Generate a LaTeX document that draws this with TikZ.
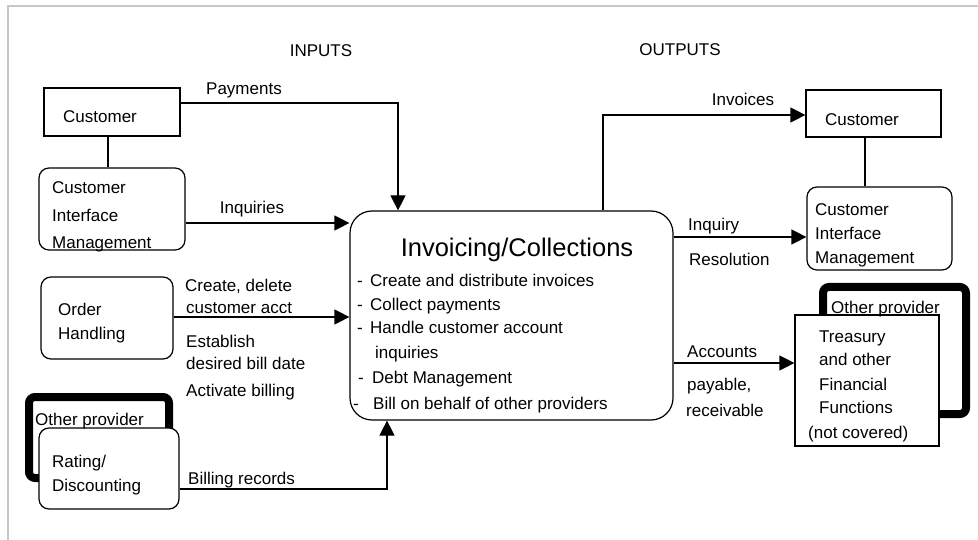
\documentclass[tikz,border=0pt]{standalone}
\usepackage{fontspec}
\setmainfont{Liberation Sans}
\usetikzlibrary{arrows.meta}
\begin{document}
\begin{tikzpicture}[x=1pt,y=-1pt,
  font=\fontsize{17}{20}\selectfont,
  lbl/.style={anchor=base west,inner sep=0pt},
  clbl/.style={anchor=base,inner sep=0pt},
  sqbox/.style={draw,line width=1.2pt,fill=white,inner sep=0pt},
  rbox/.style={draw,line width=1.2pt,fill=white,rounded corners=10pt,inner sep=0pt},
  provbox/.style={draw,line width=8pt,rounded corners=6pt,inner sep=0pt},
  mainbox/.style={draw,line width=1.2pt,fill=white,rounded corners=22pt,inner sep=0pt},
  link/.style={line width=1.2pt},
  arr/.style={line width=1.2pt,-{Triangle[length=15pt,width=15pt]}}]
\useasboundingbox (0,0) rectangle (978,540);
% page frame
\draw[black!22,line width=2pt] (8,540) -- (8,6) -- (978,6);

% headings
\node[clbl] (hin) at (321,57) {INPUTS};
\node[clbl] (hout) at (680,56) {OUTPUTS};

% input side boxes
\node[sqbox,minimum width=136pt,minimum height=48pt] (custL) at (112,112) {};
\node[rbox,minimum width=146pt,minimum height=82pt] (cimL) at (112,209) {};
\node[rbox,minimum width=132pt,minimum height=82pt] (ord) at (107,318) {};
\node[provbox,minimum width=140pt,minimum height=81pt] (othL) at (99,437.5) {};
\node[rbox,minimum width=140pt,minimum height=81pt] (rate) at (109,468.5) {};

% central process
\node[mainbox,minimum width=323pt,minimum height=209pt] (main) at (511.5,315.5) {};

% output side boxes
\node[sqbox,minimum width=135pt,minimum height=47pt] (custR) at (873.5,113.5) {};
\node[rbox,minimum width=145pt,minimum height=83pt] (cimR) at (879.5,228.5) {};
\node[provbox,minimum width=143pt,minimum height=127pt] (othR) at (894.5,350.5) {};
\node[sqbox,minimum width=144pt,minimum height=131pt] (treas) at (867,380.5) {};

% box texts
\node[lbl] (tcustL) at (63,123) {Customer};
\node[lbl] (tcimL1) at (52,194) {Customer};
\node[lbl] (tcimL2) at (52,222) {Interface};
\node[lbl] (tcimL3) at (52,249) {Management};
\node[lbl] (tord1) at (58,316) {Order};
\node[lbl] (tord2) at (58,340) {Handling};
\node[lbl] (tothL) at (35,425) {Other provider};
\node[lbl] (trate1) at (52,467) {Rating/};
\node[lbl] (trate2) at (52,491) {Discounting};

\node[clbl,font=\fontsize{25.5}{30}\selectfont] (ttitle) at (517,257) {Invoicing/Collections};
\node[lbl] (d1) at (357,287) {-};
\node[lbl] (m1) at (370,287) {Create and distribute invoices};
\node[lbl] (d2) at (357,311) {-};
\node[lbl] (m2) at (370,311) {Collect payments};
\node[lbl] (d3) at (357,334) {-};
\node[lbl] (m3) at (370,334) {Handle customer account};
\node[lbl] (m3b) at (375,358) {inquiries};
\node[lbl] (d4) at (358,383) {-};
\node[lbl] (m4) at (372,383) {Debt Management};
\node[lbl] (d5) at (353,409) {-};
\node[lbl] (m5) at (373,409) {Bill on behalf of other providers};

\node[lbl] (tcustR) at (825,126) {Customer};
\node[lbl] (tcimR1) at (815,216) {Customer};
\node[lbl] (tcimR2) at (815,240) {Interface};
\node[lbl] (tcimR3) at (815,264) {Management};
\node[lbl] (tothR) at (831,314) {Other provider};
\node[lbl] (ttr1) at (819,342) {Treasury};
\node[lbl] (ttr2) at (819,366) {and other};
\node[lbl] (ttr3) at (819,390) {Financial};
\node[lbl] (ttr4) at (819,413) {Functions};
\node[lbl] (ttr5) at (808,438) {(not covered)};

% connectors
\draw[link] (custL.south -| 108,0) -- (cimL.north -| 108,0);
\draw[link] (custR.south -| 865,0) -- (cimR.north -| 865,0);
\draw[arr] (custL.east |- 0,103) -| (main.north -| 398,0);
\draw[arr] (cimL.east |- 0,223) -- (main.west |- 0,223);
\draw[arr] (ord.east |- 0,317) -- (main.west |- 0,317);
\draw[arr] (rate.east |- 0,489) -| (main.south -| 387,0);
\draw[arr] (main.north -| 603,0) |- (custR.west |- 0,115);
\draw[arr] (main.east |- 0,237) -- (cimR.west |- 0,237);
\draw[arr] (main.east |- 0,363) -- (treas.west |- 0,363);

% connector labels
\node[clbl] (lpay) at (244,95) {Payments};
\node[clbl] (linq) at (252,214) {Inquiries};
\node[lbl] (lo1) at (185,292) {Create, delete};
\node[lbl] (lo2) at (186,314) {customer acct};
\node[lbl] (lo3) at (186,348) {Establish};
\node[lbl] (lo4) at (186,369) {desired bill date};
\node[lbl] (lo5) at (186,396) {Activate billing};
\node[lbl] (lbill) at (188,484) {Billing records};
\node[clbl] (linv) at (743,106) {Invoices};
\node[lbl] (lir1) at (688,231) {Inquiry};
\node[lbl] (lir2) at (689,266) {Resolution};
\node[lbl] (lac1) at (687,357) {Accounts};
\node[lbl] (lac2) at (687,390) {payable,};
\node[lbl] (lac3) at (686,416) {receivable};
\end{tikzpicture}
\end{document}
